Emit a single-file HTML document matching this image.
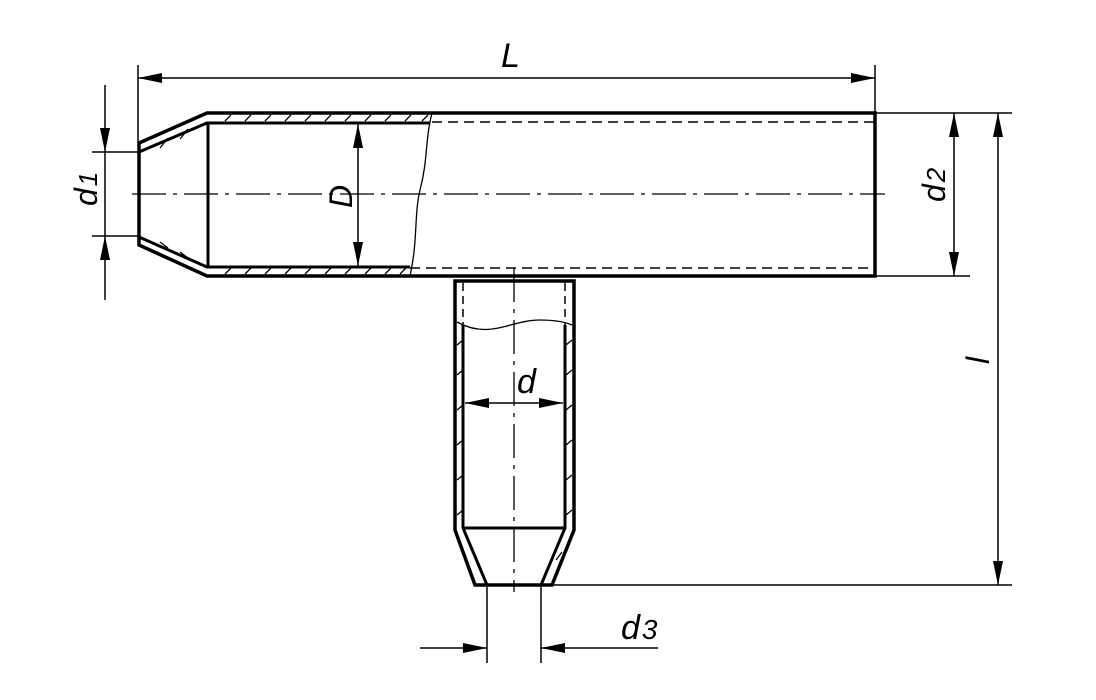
<!DOCTYPE html>
<html><head><meta charset="utf-8"><style>
html,body{margin:0;padding:0;background:#fff;width:1096px;height:700px;overflow:hidden}
text{font-family:"Liberation Sans",sans-serif;font-style:italic;fill:#000}
</style></head><body>
<svg width="1096" height="700" viewBox="0 0 1096 700" xmlns="http://www.w3.org/2000/svg">
<defs>
<marker id="a" viewBox="0 0 24 10" refX="24" refY="5" markerWidth="24" markerHeight="10" markerUnits="userSpaceOnUse" orient="auto"><path d="M0,0 L24,5 L0,10 Z" fill="#000"/></marker>
</defs>
<g fill="none" stroke="#000">
<path d="M139,143 L207,113 L875,113 L875,276 L207,276 L139,245 Z" stroke-width="3.5"/>
<path d="M139,152 L207,123 L430,123" stroke-width="3"/>
<path d="M139,237 L207,267 L410,267" stroke-width="3"/>
<line x1="208" y1="123" x2="208" y2="267" stroke-width="3"/>
<g stroke-width="1.3">
<path d="M225,121 l6,-6 M245,121 l6,-6 M265,121 l6,-6 M285,121 l6,-6 M305,121 l6,-6 M325,121 l6,-6 M345,121 l6,-6 M365,121 l6,-6 M385,121 l6,-6 M405,121 l6,-6 M422,121 l6,-6"/>
<path d="M225,274 l6,-6 M245,274 l6,-6 M265,274 l6,-6 M285,274 l6,-6 M305,274 l6,-6 M325,274 l6,-6 M345,274 l6,-6 M365,274 l6,-6 M385,274 l6,-6 M400,274 l6,-6"/>
<path d="M160,148 l8,-10 M180,139 l8,-10 M160,242 l8,6 M180,252 l8,6"/>
</g>
<path d="M432,113 C425,140 428,160 420,190 C414,215 418,240 410,276" stroke-width="1.3"/>
<line x1="432" y1="122" x2="875" y2="122" stroke-width="1.5" stroke-dasharray="10,6"/>
<line x1="410" y1="268" x2="875" y2="268" stroke-width="1.5" stroke-dasharray="10,6"/>
<line x1="132" y1="194" x2="885" y2="194" stroke-width="1.3" stroke-dasharray="34,7,4,7"/>

<path d="M455,281 L574,281 L574,530 L552,585 L475,585 L455,530 Z" stroke-width="3.5"/>
<path d="M463,325 L463,528 L487,585 M565,325 L565,528 L541,585" stroke-width="3"/>
<line x1="463" y1="528" x2="565" y2="528" stroke-width="3"/>
<line x1="463" y1="283" x2="463" y2="325" stroke-width="1.5" stroke-dasharray="8,5"/>
<line x1="565" y1="283" x2="565" y2="325" stroke-width="1.5" stroke-dasharray="8,5"/>
<path d="M457,322 C490,340 510,320 540,320 C555,320 565,322 572,325" stroke-width="1.3"/>
<g stroke-width="1.3"><path d="M457,345 l6,-5 M457,375 l6,-5 M457,410 l6,-5 M457,445 l6,-5 M457,480 l6,-5 M457,515 l6,-5 M566,345 l6,-5 M566,375 l6,-5 M566,410 l6,-5 M566,445 l6,-5 M566,480 l6,-5 M566,515 l6,-5 M556,560 l6,-8"/></g>
<line x1="514" y1="268" x2="514" y2="592" stroke-width="1.3" stroke-dasharray="34,7,4,7"/>

<g stroke-width="1.5">
<line x1="138" y1="65" x2="138" y2="143"/>
<line x1="875" y1="65" x2="875" y2="113"/>
<line x1="160" y1="78" x2="138" y2="78" marker-end="url(#a)"/>
<line x1="160" y1="78" x2="875" y2="78" marker-end="url(#a)"/>
<line x1="92" y1="152" x2="139" y2="152"/>
<line x1="92" y1="236" x2="139" y2="236"/>
<line x1="105" y1="85" x2="105" y2="152" marker-end="url(#a)"/>
<line x1="105" y1="300" x2="105" y2="236" marker-end="url(#a)"/>
<line x1="105" y1="152" x2="105" y2="236"/>
<line x1="358" y1="190" x2="358" y2="124" marker-end="url(#a)"/>
<line x1="358" y1="190" x2="358" y2="266" marker-end="url(#a)"/>
<line x1="875" y1="113" x2="1012" y2="113"/>
<line x1="875" y1="276" x2="970" y2="276"/>
<line x1="954" y1="190" x2="954" y2="113" marker-end="url(#a)"/>
<line x1="954" y1="190" x2="954" y2="276" marker-end="url(#a)"/>
<line x1="552" y1="585" x2="1012" y2="585"/>
<line x1="998" y1="350" x2="998" y2="113" marker-end="url(#a)"/>
<line x1="998" y1="350" x2="998" y2="585" marker-end="url(#a)"/>
<line x1="514" y1="403" x2="465" y2="403" marker-end="url(#a)"/>
<line x1="514" y1="403" x2="563" y2="403" marker-end="url(#a)"/>
<line x1="487" y1="587" x2="487" y2="663"/>
<line x1="541" y1="587" x2="541" y2="663"/>
<line x1="420" y1="648" x2="487" y2="648" marker-end="url(#a)"/>
<line x1="658" y1="648" x2="541" y2="648" marker-end="url(#a)"/>
</g>
</g>
<text x="501" y="67" font-size="34">L</text>
<text x="0" y="0" font-size="32" transform="translate(97,206) rotate(-90)">d<tspan font-size="26" dx="2">1</tspan></text>
<text x="0" y="0" font-size="32" transform="translate(352,208) rotate(-90)">D</text>
<text x="0" y="0" font-size="32" transform="translate(945,202) rotate(-90)">d<tspan font-size="26" dx="2">2</tspan></text>
<text x="0" y="0" font-size="32" transform="translate(989,364) rotate(-90)">l</text>
<text x="517" y="393" font-size="34">d</text>
<text x="621" y="639" font-size="34">d<tspan font-size="28" dx="2">3</tspan></text>
</svg>
</body></html>
